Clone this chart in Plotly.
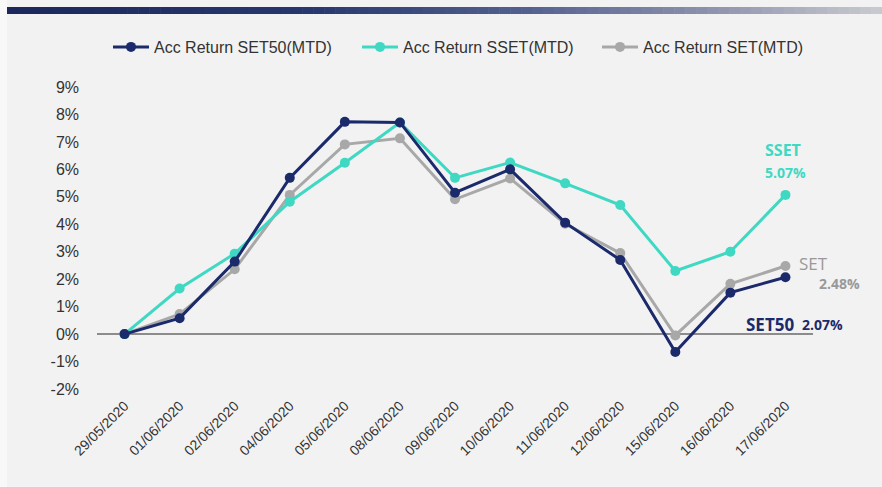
import plotly.graph_objects as go

dates = ["29/05/2020", "01/06/2020", "02/06/2020", "04/06/2020", "05/06/2020",
         "08/06/2020", "09/06/2020", "10/06/2020", "11/06/2020", "12/06/2020",
         "15/06/2020", "16/06/2020", "17/06/2020"]
set50 = [0.0, 0.58, 2.64, 5.69, 7.73, 7.71, 5.15, 6.00, 4.06, 2.70, -0.65, 1.51, 2.07]
sset = [0.0, 1.66, 2.93, 4.82, 6.24, 7.71, 5.69, 6.25, 5.49, 4.70, 2.30, 3.00, 5.07]
set_ = [0.0, 0.73, 2.36, 5.07, 6.91, 7.13, 4.91, 5.67, 4.02, 2.95, -0.05, 1.83, 2.48]
y_ticks = list(range(-2, 10))
y_tick_text = [f"{v}%" for v in y_ticks]

C_SET50 = "#1b2a6b"
C_SSET = "#3fd8c2"
C_SET = "#a8a8a8"
BG = "#f2f2f2"
TXT = "#333333"

fig = go.Figure()
for name, vals, col, lg in [("Acc Return SET(MTD)", set_, C_SET, "legend3"),
                            ("Acc Return SSET(MTD)", sset, C_SSET, "legend2"),
                            ("Acc Return SET50(MTD)", set50, C_SET50, "legend")]:
    fig.add_trace(go.Scatter(x=dates, y=vals, name=name, mode="lines+markers",
                             line=dict(color=col, width=3),
                             marker=dict(color=col, size=10), legend=lg))

W, H = 882, 487
L, R, T, B = 97, 69, 87, 98
pw, ph = W - L - R, H - T - B

def px_to_paper_x(px):
    return (px - L) / pw

def py_to_paper_y(py):
    return (H - B - py) / ph

# gradient header bar
stops = [(0.0, (28, 40, 92)), (0.35, (40, 56, 110)), (0.6, (85, 98, 145)),
         (0.8, (140, 146, 172)), (1.0, (202, 203, 208))]

def interp(t):
    for (t0, c0), (t1, c1) in zip(stops[:-1], stops[1:]):
        if t <= t1:
            f = (t - t0) / (t1 - t0) if t1 > t0 else 0
            return tuple(int(round(a + (b - a) * f)) for a, b in zip(c0, c1))
    return stops[-1][1]

shapes = [dict(type="rect", xref="paper", yref="paper",
               x0=px_to_paper_x(0), x1=px_to_paper_x(7),
               y0=py_to_paper_y(487), y1=py_to_paper_y(0),
               fillcolor="#f8f8f8", line=dict(width=0), layer="below")]
N = 80
x_start, x_end = 7, 882
for i in range(N):
    a = x_start + (x_end - x_start) * i / N
    b = x_start + (x_end - x_start) * (i + 1) / N + 0.6
    c = interp((i + 0.5) / N)
    shapes.append(dict(type="rect", xref="paper", yref="paper",
                       x0=px_to_paper_x(a), x1=px_to_paper_x(b),
                       y0=py_to_paper_y(14), y1=py_to_paper_y(7),
                       fillcolor=f"rgb{c}", line=dict(width=0), layer="below"))

last = dates[-1]
annotations = [
    dict(x=last, y=sset[-1], text="<b>SSET</b>", showarrow=False,
         font=dict(color=C_SSET, size=16, family="Open Sans"), xshift=-2, yshift=45),
    dict(x=last, y=sset[-1], text="<b>5.07%</b>", showarrow=False,
         font=dict(color=C_SSET, size=14, family="Open Sans"), xshift=0, yshift=22),
    dict(x=last, y=set_[-1], text="SET", showarrow=False,
         font=dict(color="#999999", size=17, family="Open Sans"), xshift=28, yshift=3),
    dict(x=last, y=set_[-1], text="<b>2.48%</b>", showarrow=False,
         font=dict(color="#999999", size=14, family="Open Sans"), xshift=54, yshift=-17),
    dict(x=last, y=set50[-1], text="<b>SET50</b>", showarrow=False,
         font=dict(color=C_SET50, size=17, family="Open Sans"), xshift=-15, yshift=-47),
    dict(x=last, y=set50[-1], text="<b>2.07%</b>", showarrow=False,
         font=dict(color=C_SET50, size=14, family="Open Sans"), xshift=37, yshift=-47),
]

def legend_at(px):
    return dict(orientation="h", x=px_to_paper_x(px), xanchor="left",
                y=py_to_paper_y(47), yanchor="middle",
                font=dict(size=16, color=TXT), bgcolor="rgba(0,0,0,0)",
                itemwidth=36)

fig.update_layout(
    width=W, height=H,
    margin=dict(l=L, r=R, t=T, b=B, pad=0),
    paper_bgcolor=BG, plot_bgcolor=BG,
    font=dict(family="Liberation Sans", color=TXT),
    showlegend=True,
    legend=legend_at(108),
    legend2=legend_at(357),
    legend3=legend_at(597),
    xaxis=dict(type="category", range=[-0.5, len(dates) - 0.5],
               showgrid=False, zeroline=False, showline=False,
               tickangle=-45, tickfont=dict(size=14, color=TXT),
               ticks="", ticklabelstandoff=5),
    yaxis=dict(range=[-2, 9], tickvals=y_ticks, ticktext=y_tick_text,
               showgrid=False, zeroline=True, zerolinecolor="#8c8c8c", zerolinewidth=1.5,
               showline=False, ticks="", tickfont=dict(size=16, color=TXT),
               ticklabelstandoff=17),
    shapes=shapes,
    annotations=annotations,
)

fig.write_html("out.html")
